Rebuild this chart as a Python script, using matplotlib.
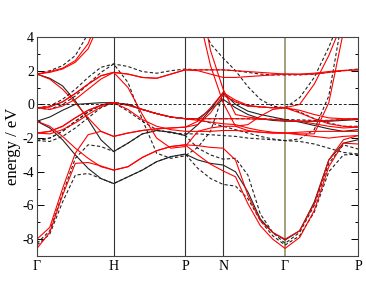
import numpy as np
import matplotlib
matplotlib.use("Agg")
import matplotlib.pyplot as plt

# high-symmetry points and their positions along the path (fraction of path)
kpoint_labels = ["Γ", "H", "P", "N", "Γ", "P"]
kpoint_pos = [0.0, 0.239, 0.462, 0.580, 0.773, 1.0]
seg_divisions = [6, 5, 3, 5, 5]

# energies (eV) read at the 25 k-points of the path
# order: Γ..H (7) | H..P (5) | P..N (3) | N..Γ (5) | Γ..P (5)
red_bands = [
    [-8.55,-7.6,-5.4,-3.5,-3.45,-3.65,-3.9, -3.7,-3.15,-2.75,-2.5,-2.4, -3.0,-3.55,-3.95, -4.3,-5.9,-7.2,-8.0,-8.55, -7.9,-6.3,-3.7,-2.3,-2.35],
    [-8.0,-7.3,-5.0,-2.9,-1.8,-1.6,-1.9, -1.7,-1.55,-1.45,-1.4,-1.35, -1.0,-0.2,0.7, 0.25,-0.05,-0.15,-0.2,-0.2, 0.0,1.2,2.9,5.0,6.5],
    [-1.0,-1.3,-1.9,-2.6,-3.2,-3.7,-3.9, -3.7,-3.15,-2.75,-2.5,-2.4, -2.45,-2.55,-2.6, -3.3,-5.4,-6.9,-7.6,-8.0, -7.5,-5.9,-3.3,-2.1,-1.85],
    [1.8,1.95,2.15,2.6,3.6,5.5,7.0, 7.0,7.0,7.0,7.0,7.0, 7.0,3.2,0.9, -0.6,-0.75,-0.85,-0.9,-0.95, -1.0,-1.15,-1.3,-1.4,-1.35],
    [-1.7,-1.6,-1.3,-0.8,-0.35,-0.05,0.1, -0.05,-0.3,-0.55,-0.75,-0.85, -0.85,-0.85,-0.85, -0.85,-0.86,-0.88,-0.9,-0.95, -1.0,-1.0,-0.95,-0.9,-0.85],
    [-1.7,-1.75,-1.5,-1.1,-0.6,-0.15,0.1, -0.3,-0.9,-1.3,-1.5,-1.6, -1.6,-1.6,-1.55, -1.55,-1.6,-1.65,-1.7,-1.7, -1.65,-1.6,-1.6,-1.6,-1.6],
    [-0.2,-0.15,0.15,0.65,1.2,1.7,1.9, 1.8,1.6,1.55,1.8,2.05, 2.05,2.05,2.05, 2.0,1.95,1.9,1.85,1.8, 1.78,1.8,1.9,2.0,2.05],
    [1.8,1.5,0.9,0.1,-0.8,-1.6,-1.9, -1.7,-1.55,-1.45,-1.4,-1.35, -1.2,-0.5,0.55, 0.15,-0.1,-0.15,-0.2,-0.2, -0.5,-0.85,-1.15,-1.3,-1.35],
    [1.8,1.9,2.1,2.5,3.3,5.0,7.0, 7.0,7.0,7.0,7.0,7.0, 5.5,2.3,0.1, -1.3,-1.55,-1.65,-1.7,-1.7, -1.75,-1.75,0.1,4.3,6.5],
    [-0.2,-0.15,0.15,0.65,1.2,1.7,1.9, 1.8,1.6,1.55,1.8,2.05, 2.0,1.8,1.6, 1.6,1.65,1.7,1.75,1.8, 1.8,1.85,1.95,2.02,2.05],
    [-0.2,-0.3,-0.1,0.3,0.9,1.5,1.9, 1.0,-0.6,-2.0,-2.6,-2.5, -1.6,-1.4,-1.3, -1.3,-1.2,-0.7,-0.3,-0.2, -0.35,-0.6,-0.8,-0.85,-0.85],
    [-1.7,-1.6,-1.3,-0.8,-0.35,-0.05,0.1, -0.05,-0.3,-0.55,-0.75,-0.85, -0.95,-1.05,-1.15, -1.2,-1.4,-1.55,-1.65,-1.7, -1.8,-1.9,-2.0,-1.9,-1.85],
]

black_solid_bands = [
    [-1.0,-1.4,-2.1,-3.0,-3.8,-4.4,-4.7, -4.3,-3.9,-3.4,-3.1,-2.95, -3.3,-3.5,-3.6, -4.0,-5.2,-6.8,-7.6,-8.05, -7.5,-5.8,-3.3,-2.3,-2.1],
    [-1.0,-0.75,-0.35,0.0,0.05,0.1,0.1, 0.0,-0.3,-0.55,-0.75,-0.85, -0.85,-0.3,0.3, -0.2,-0.6,-0.85,-0.95,-1.0, -1.0,-1.0,-1.0,-0.95,-0.9],
    [1.8,1.55,1.1,0.2,-0.9,-2.1,-2.8, -2.3,-1.75,-1.55,-1.65,-1.85, -1.2,-0.3,0.7, 0.0,-0.4,-0.6,-0.75,-0.9, -1.05,-1.25,-1.45,-1.6,-1.5],
]

black_dashed_bands = [
    [-8.35,-7.7,-5.8,-4.2,-4.1,-4.4,-4.7, -4.3,-3.9,-3.4,-3.1,-2.95, -3.8,-4.4,-4.75, -4.85,-5.6,-6.9,-7.8,-8.35, -7.8,-6.4,-4.0,-3.0,-2.95],
    [-8.25,-7.5,-5.3,-3.2,-2.4,-2.5,-2.8, -2.3,-1.75,-1.55,-1.65,-1.85, -2.6,-3.0,-3.25, -3.2,-4.2,-6.5,-7.6,-8.25, -7.6,-6.0,-3.5,-2.4,-2.65],
    [-2.15,-2.0,-1.6,-1.0,-0.45,-0.05,0.1, 0.0,-0.3,-0.55,-0.75,-0.85, -0.85,-0.85,-0.85, -0.85,-0.85,-0.86,-0.88,-0.9, -0.92,-0.95,-0.95,-0.9,-0.85],
    [-2.15,-2.2,-1.9,-1.4,-0.8,-0.2,0.1, -0.4,-1.0,-1.5,-1.7,-1.75, -1.75,-1.8,-1.85, -1.9,-2.0,-2.05,-2.1,-2.15, -2.2,-2.35,-2.6,-2.85,-2.95],
    [-2.15,-2.0,-1.6,-1.0,-0.45,-0.05,0.1, 0.0,-0.3,-0.55,-0.75,-0.85, -0.9,-1.1,-1.3, -1.5,-1.7,-1.9,-2.05,-2.15, -2.05,-1.5,0.5,5.5,7.0],
    [1.8,2.0,2.3,2.9,4.2,6.5,7.0, 7.0,7.0,7.0,7.0,7.0, 5.5,3.6,2.75, 2.0,1.05,0.3,-0.1,-0.2, 0.4,1.6,3.4,5.5,7.0],
    [-0.2,-0.1,0.3,0.9,1.6,2.2,2.4, 2.25,1.95,1.85,2.0,2.1, 2.05,2.05,2.05, 2.0,1.9,1.8,1.75,1.75, 1.75,1.8,1.9,2.0,2.1],
    [-0.2,-0.3,0.0,0.5,1.2,1.9,2.4, 1.3,-0.9,-2.9,-3.2,-3.05, -2.55,-1.6,0.6, 0.15,-0.1,-0.15,-0.2,-0.2, -0.45,-0.85,-1.1,-1.3,-1.3],
]

# k-grid built from the high-symmetry positions
kx = [kpoint_pos[0]]
for i, n in enumerate(seg_divisions):
    kx.extend(np.linspace(kpoint_pos[i], kpoint_pos[i + 1], n + 1)[1:])
kx = np.array(kx)

plt.rcParams["font.family"] = ["Liberation Serif", "DejaVu Serif"]
plt.rcParams["axes.unicode_minus"] = False
fig = plt.figure(figsize=(3.66, 2.83), dpi=100)
ax = fig.add_axes([0.101, 0.0954, 0.877, 0.7738])

for b in black_dashed_bands:
    ax.plot(kx, b, color="#222222", lw=0.8, ls=(0, (3, 2)))
for b in black_solid_bands:
    ax.plot(kx, b, color="#222222", lw=0.8)
for b in red_bands:
    ax.plot(kx, b, color="#ff0000", lw=0.8)

for i, xp in enumerate(kpoint_pos[1:-1], start=1):
    col = "#9a9a70" if i == 4 else "#333333"
    ax.axvline(xp, color=col, lw=1.3 if i == 4 else 0.8, zorder=0.5)
ax.axhline(0, color="#222222", lw=0.7, ls=(0, (3, 2)))

ax.set_xlim(0, 1)
ax.set_ylim(-9, 4)
ax.set_xticks(kpoint_pos)
ax.set_xticklabels(kpoint_labels, fontsize=10)
ax.set_yticks(range(-8, 5, 2))
ax.set_yticks(range(-9, 4, 2), minor=True)
ax.tick_params(axis="y", which="major", direction="in", length=5, width=0.7,
               right=True, labelsize=10, pad=2)
ax.tick_params(axis="y", which="minor", direction="in", length=2.5, width=0.7, right=True)
ax.tick_params(axis="x", which="major", length=0, pad=3)
for s in ax.spines.values():
    s.set_linewidth(0.8)
    s.set_color("#444444")
ax.set_ylabel("energy / eV", fontsize=12)
ax.yaxis.set_label_coords(-0.05, 0.5)

fig.savefig("out.png", dpi=100)
